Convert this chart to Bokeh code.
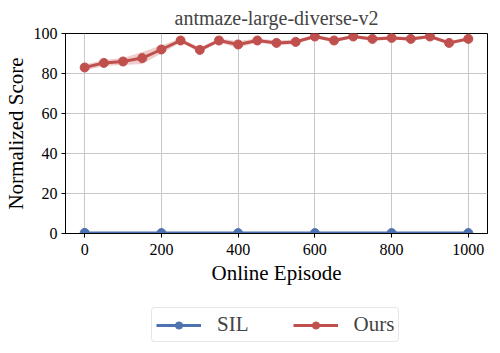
from bokeh.plotting import figure
from bokeh.layouts import column
from bokeh.models import Legend, LegendItem, FixedTicker, Range1d
from bokeh.embed import file_html
from bokeh.resources import INLINE

episodes = [0, 50, 100, 150, 200, 250, 300, 350, 400, 450, 500, 550, 600, 650, 700, 750, 800, 850, 900, 950, 1000]
ours_mean = [83.0, 85.3, 86.0, 87.7, 92.0, 96.5, 91.8, 96.5, 94.5, 96.5, 95.3, 95.8, 98.5, 96.5, 98.5, 97.3, 97.8, 97.3, 98.5, 95.3, 97.3]
ours_std = [1.5, 1.5, 1.8, 3.0, 2.0, 1.0, 1.2, 1.0, 1.8, 1.0, 1.2, 1.2, 0.8, 1.0, 0.8, 1.0, 0.8, 1.0, 0.8, 1.0, 0.8]
sil_episodes = [0, 200, 400, 600, 800, 1000]
sil_mean = [0.3, 0.2, 0.2, 0.2, 0.2, 0.2]

RED = "#c0504d"
BLUE = "#4c72b0"
FONT = "Liberation Serif"

p = figure(frame_width=422, frame_height=200,
           output_backend="svg", toolbar_location=None,
           x_range=Range1d(-50, 1050), y_range=Range1d(0, 100),
           min_border_left=58, min_border_right=4, min_border_top=25, min_border_bottom=66)

p.title.text = "antmaze-large-diverse-v2"
p.title.align = "center"
p.title.text_font = FONT
p.title.text_font_size = "20px"
p.title.text_font_style = "normal"
p.title.standoff = 9

lo = [m - s for m, s in zip(ours_mean, ours_std)]
hi = [m + s for m, s in zip(ours_mean, ours_std)]
p.varea(x=episodes, y1=lo, y2=hi, fill_color=RED, fill_alpha=0.28)

p.line(sil_episodes, sil_mean, line_color=BLUE, line_width=3)
p.scatter(sil_episodes, sil_mean, size=9, fill_color=BLUE, line_color=BLUE)
p.line(episodes, ours_mean, line_color=RED, line_width=3)
p.scatter(episodes, ours_mean, size=9, fill_color=RED, line_color=RED)

p.xaxis.ticker = FixedTicker(ticks=[0, 200, 400, 600, 800, 1000])
p.yaxis.ticker = FixedTicker(ticks=[0, 20, 40, 60, 80, 100])
for ax in (p.xaxis[0], p.yaxis[0]):
    ax.major_label_text_font = FONT
    ax.major_label_text_font_size = "16px"
    ax.axis_label_text_font = FONT
    ax.axis_label_text_font_size = "21px"
    ax.axis_label_text_font_style = "normal"
    ax.axis_line_color = "black"
    ax.major_tick_line_color = "black"
    ax.major_tick_out = 4
    ax.major_tick_in = 0
    ax.minor_tick_line_color = None
    ax.major_label_text_color = "black"
    ax.axis_label_text_color = "black"
p.xaxis.axis_label = "Online Episode"
p.yaxis.axis_label = "Normalized Score"
p.xaxis.major_label_standoff = 6
p.xaxis.axis_label_standoff = 3
p.yaxis.major_label_standoff = 4
p.yaxis.axis_label_standoff = 3

p.grid.grid_line_color = "#c8c8c8"
p.grid.grid_line_width = 1
p.outline_line_color = "black"
p.outline_line_width = 1
p.background_fill_color = "white"

# legend strip below the chart (its renderers hold data outside the visible range)
lg = figure(width=484, height=48, output_backend="svg", toolbar_location=None,
            x_axis_type=None, y_axis_type=None,
            x_range=Range1d(0, 1), y_range=Range1d(0, 1),
            min_border=0, min_border_left=0, min_border_right=0,
            min_border_top=0, min_border_bottom=0)
lg.outline_line_color = None
lg.grid.visible = False
hidden = [-10, -9]
sil_line = lg.line(hidden, hidden, line_color=BLUE, line_width=3)
sil_pts = lg.scatter(hidden, hidden, size=9, fill_color=BLUE, line_color=BLUE)
ours_line = lg.line(hidden, hidden, line_color=RED, line_width=3)
ours_pts = lg.scatter(hidden, hidden, size=9, fill_color=RED, line_color=RED)

legend = Legend(items=[LegendItem(label="SIL", renderers=[sil_line, sil_pts]),
                       LegendItem(label="Ours", renderers=[ours_line, ours_pts])],
                orientation="horizontal", location=(86, 5))
legend.label_text_font = FONT
legend.label_text_font_size = "21px"
legend.label_height = 18
legend.glyph_width = 45
legend.glyph_height = 18
legend.spacing = 44
legend.margin = 0
legend.padding = 4
legend.border_line_color = "#d0d0d0"
legend.border_radius = 4
legend.label_standoff = 16
lg.add_layout(legend, "center")

layout = column(p, lg)
open("out.html", "w").write(file_html(layout, INLINE))
